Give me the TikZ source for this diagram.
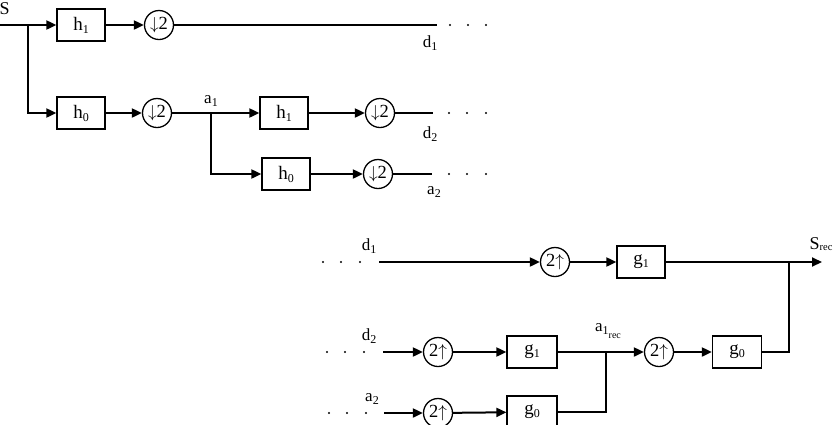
\documentclass[tikz,border=0pt]{standalone}
\usepackage{fontspec}
\setmainfont{Liberation Serif}
\usetikzlibrary{arrows.meta}
\newcommand\sbs[1]{\raisebox{-3pt}{\fontsize{12}{12}\selectfont #1}}
\newcommand\rsb[1]{\raisebox{-7pt}{\fontsize{10}{10}\selectfont #1}}
\newcommand\dwn{\ensuremath{\downarrow}}
\newcommand\upw{\ensuremath{\uparrow}}
\begin{document}
\begin{tikzpicture}[x=1pt,y=-1pt,
  blk/.style={draw,line width=1.3pt,minimum width=48pt,minimum height=32pt,inner sep=0pt,font=\fontsize{19}{19}\selectfont},
  smp/.style={draw,circle,line width=1.3pt,minimum size=29pt,inner sep=0pt,font=\fontsize{18.5}{18.5}\selectfont},
  sig/.style={line width=2pt},
  arr/.style={sig,-{Triangle[length=10pt,width=9pt]}},
  lbl/.style={inner sep=0pt,font=\fontsize{17}{17}\selectfont},
  dot/.style={circle,fill,inner sep=0pt,minimum size=2.4pt}
]
\useasboundingbox (0,0) rectangle (836,424);
% ---------- analysis ----------
\node[lbl,font=\fontsize{18}{18}\selectfont,anchor=west] (S) at (-0.5,9) {S};
\coordinate (sIn) at (0,25);
\coordinate (br0) at (28,25);
\node[blk] (h1a) at (81,25) {h\sbs{1}};
\node[smp] (dn1) at (159,25) {\dwn2};
\coordinate (d1e) at (437,25);
\node[dot] (t1) at (450,25) {}; \node[dot] (t2) at (468,25) {}; \node[dot] (t3) at (486,25) {};
\node[lbl] (d1) at (430,43) {d\sbs{1}};

\node[blk] (h0a) at (81,113) {h\sbs{0}};
\node[smp] (dn2) at (157,113) {\dwn2};
\coordinate (br1) at (211,113);
\node[lbl] (a1) at (211,101) {a\sbs{1}};
\node[blk] (h1b) at (284,113) {h\sbs{1}};
\node[smp] (dn3) at (380,113) {\dwn2};
\coordinate (d2e) at (433,113);
\node[dot] (t4) at (449,113) {}; \node[dot] (t5) at (467,113) {}; \node[dot] (t6) at (486,113) {};
\node[lbl] (d2) at (430,134) {d\sbs{2}};

\node[blk] (h0b) at (286,174) {h\sbs{0}};
\node[smp] (dn4) at (378,174) {\dwn2};
\coordinate (a2e) at (432,174);
\node[dot] (t7) at (449,174) {}; \node[dot] (t8) at (467,174) {}; \node[dot] (t9) at (486,174) {};
\node[lbl] (a2) at (434,192) {a\sbs{2}};

\draw[sig] (sIn) -- (br0);
\draw[arr] (br0) -- (h1a);
\draw[arr] (br0) |- (h0a);
\draw[arr] (h1a) -- (dn1);
\draw[sig] (dn1) -- (d1e);
\draw[arr] (h0a) -- (dn2);
\draw[arr] (dn2) -- (h1b);
\draw[arr] (br1) |- (h0b);
\draw[arr] (h1b) -- (dn3);
\draw[sig] (dn3) -- (d2e);
\draw[arr] (h0b) -- (dn4);
\draw[sig] (dn4) -- (a2e);

% ---------- synthesis ----------
\node[dot] (u1) at (323,262) {}; \node[dot] (u2) at (341,262) {}; \node[dot] (u3) at (360,262) {};
\node[lbl] (sd1) at (369,246) {d\sbs{1}};
\coordinate (d1s) at (379,262);
\node[smp] (up1) at (555,262) {2\upw};
\node[blk] (g1a) at (641,262) {g\sbs{1}};
\coordinate (jn2) at (789,262);
\coordinate (out) at (822,262);
\node[lbl,font=\fontsize{18}{18}\selectfont] (Srec) at (821,244) {S\raisebox{-1.5pt}{\fontsize{10.5}{10.5}\selectfont rec}};

\node[dot] (u4) at (327,352) {}; \node[dot] (u5) at (345,352) {}; \node[dot] (u6) at (364,352) {};
\node[lbl] (sd2) at (369,336) {d\sbs{2}};
\coordinate (d2s) at (383,352);
\node[smp] (up2) at (438,352) {2\upw};
\node[blk,minimum width=50pt] (g1b) at (532,352) {g\sbs{1}};
\coordinate (jn1) at (606,352);
\node[lbl] (a1r) at (608,331) {a\sbs{1}\rsb{rec}};
\node[smp] (up3) at (659,352) {2\upw};
\node[blk,minimum width=49pt] (g0a) at (737,352) {g\sbs{0}};

\node[dot] (u7) at (329,413) {}; \node[dot] (u8) at (347,413) {}; \node[dot] (u9) at (366,413) {};
\node[lbl] (sa2) at (372,399) {a\sbs{2}};
\coordinate (a2s) at (384,413);
\node[smp] (up4) at (438,413) {2\upw};
\node[blk,minimum width=50pt] (g0b) at (532,412) {g\sbs{0}};

\draw[arr] (d1s) -- (up1);
\draw[arr] (up1) -- (g1a);
\draw[arr] (g1a) -- (out);
\draw[sig] (g0a) -| (jn2);
\draw[arr] (d2s) -- (up2);
\draw[arr] (up2) -- (g1b);
\draw[arr] (g1b) -- (up3);
\draw[arr] (up3) -- (g0a);
\draw[arr] (a2s) -- (up4);
\draw[arr] (up4) -- (g0b);
\draw[sig] (g0b) -| (jn1);
\end{tikzpicture}
\end{document}
